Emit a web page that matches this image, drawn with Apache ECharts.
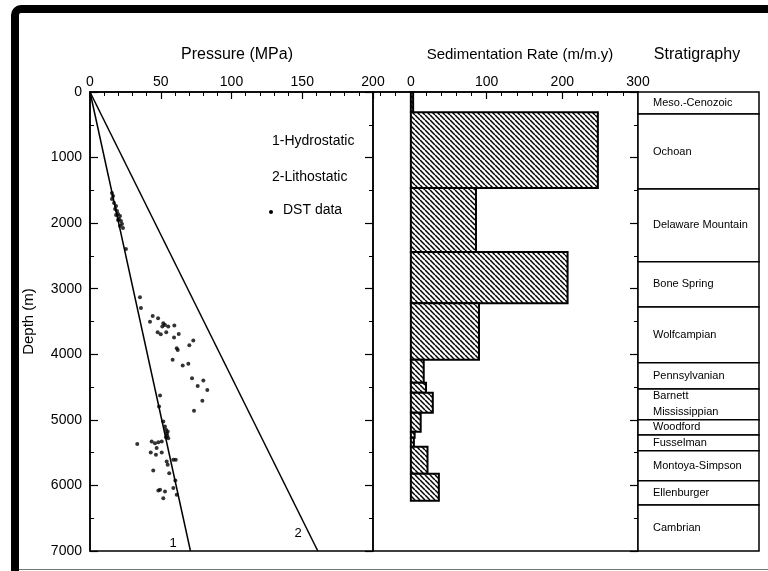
<!DOCTYPE html>
<html>
<head>
<meta charset="utf-8">
<script src="https://cdn.jsdelivr.net/npm/echarts@6/dist/echarts.min.js"></script>
<style>html,body{margin:0;padding:0;background:#fff}#c{width:768px;height:571px}</style>
</head>
<body>
<div id="c"></div>
<script>
// ---------- data ----------
const depthTicks = [0, 1000, 2000, 3000, 4000, 5000, 6000, 7000];
const pressureTicks = [0, 50, 100, 150, 200];
const sedTicks = [0, 100, 200, 300];
const sedMinorTicks = [-40, -20, 20, 40, 60, 80, 120, 140, 160, 180, 220, 240, 260, 280];

// pressure gradients: [pressure MPa, depth m]
const hydrostatic = [[0, 0], [71, 7000]];
const lithostatic = [[0, 0], [161, 7000]];

// DST data: [pressure MPa, depth m]
const dstData = [
  [15.5,1540],[16.3,1585],[15.5,1631],[17.0,1692],[18.4,1738],[17.7,1784],[19.1,1814],
  [19.8,1860],[21.2,1890],[20.5,1936],[21.9,1966],[22.6,2012],[21.2,2043],[23.3,2073],
  [19.8,1951],[18.4,1875],[25.4,2393],
  [35.3,3130],[36.0,3293],[44.3,3415],[42.4,3502],[48.1,3450],[51.8,3526],[53.0,3552],
  [55.3,3578],[51.1,3578],[59.6,3562],[47.8,3663],[50.0,3694],[53.9,3663],[62.7,3689],
  [59.4,3745],[73.0,3791],[70.2,3861],[61.3,3907],[62.0,3933],[58.4,4085],[65.5,4172],
  [69.5,4146],[72.1,4364],[80.1,4401],[76.1,4482],[82.9,4543],[79.4,4710],[49.5,4630],
  [48.8,4797],[73.5,4863],
  [51.8,5026],[53.0,5102],[53.7,5152],[54.2,5203],[54.6,5244],[55.3,5279],[53.7,5264],
  [54.9,5178],[33.4,5370],[43.6,5331],[45.9,5355],[48.3,5340],[50.7,5331],[47.1,5431],
  [42.9,5498],[46.6,5534],[50.7,5498],[54.2,5636],[54.9,5686],[58.9,5610],[60.6,5610],
  [56.0,5813],[44.7,5773],[60.3,5925],[49.5,6067],[53.0,6093],[58.9,6041],[61.3,6143],
  [51.8,6194],[48.3,6078]
];

// sedimentation rate step profile
const sedTop    = [0,   310, 1465, 2440, 3220, 4085, 4436, 4588, 4893, 5183, 5274, 5412, 5823];
const sedBottom = [310, 1465, 2440, 3220, 4085, 4436, 4588, 4893, 5183, 5274, 5412, 5823, 6235];
const sedRate   = [3,   247,  86,   207,  90,   17,   20,   29,   13,   5,    4,    22,   37];

// stratigraphy
const stratNames = ['Meso.-Cenozoic','Ochoan','Delaware Mountain','Bone Spring','Wolfcampian',
  'Pennsylvanian','Barnett\nMississippian','Woodford','Fusselman','Montoya-Simpson','Ellenburger','Cambrian'];
const stratTop    = [0, 335, 1480, 2590, 3280, 4130, 4530, 5000, 5230, 5470, 5930, 6300];
const stratBottom = [335, 1480, 2590, 3280, 4130, 4530, 5000, 5230, 5470, 5930, 6300, 7000];

// ---------- chart ----------
const FONT = 'Liberation Sans, Arial, Helvetica, sans-serif';

// hatch pattern
const pc = document.createElement('canvas');
const S = 5;
pc.width = S; pc.height = S;
const ctx = pc.getContext('2d');
ctx.fillStyle = '#fff'; ctx.fillRect(0, 0, S, S);
ctx.strokeStyle = '#000'; ctx.lineWidth = 1.5;
for (let k = -1; k <= 1; k++) {
  ctx.beginPath(); ctx.moveTo(k * S, 0); ctx.lineTo(k * S + S, S); ctx.stroke();
}
const hatch = { image: pc, repeat: 'repeat' };

const chart = echarts.init(document.getElementById('c'), null, { renderer: 'canvas' });

const G = { top: 92, height: 459 };
const gridBorder = { show: true, borderColor: '#000', borderWidth: 1.5, backgroundColor: 'transparent' };

const sideAxis = (grid, pos) => ({
  gridIndex: grid, type: 'value', inverse: true, min: 0, max: 7000, interval: 1000, position: pos,
  axisLine: { show: false, onZero: false },
  axisTick: { show: true, inside: true, length: 8, lineStyle: { color: '#000', width: 1.2 } },
  minorTick: { show: true, splitNumber: 2, length: 4, lineStyle: { color: '#000', width: 1 } },
  axisLabel: { show: false }, splitLine: { show: false }
});

const option = {
  animation: false,
  backgroundColor: '#fff',
  grid: [
    Object.assign({ left: 90, width: 283 }, G, gridBorder),
    Object.assign({ left: 373, width: 265 }, G, gridBorder),
    Object.assign({ left: 638, width: 121 }, G, { show: false }),
    Object.assign({ left: 373, width: 265 }, G, { show: false })
  ],
  xAxis: [
    { gridIndex: 0, type: 'value', position: 'top', min: 0, max: 200, interval: 50,
      axisLine: { show: true, onZero: false, lineStyle: { color: '#000', width: 1.5 } },
      axisTick: { show: true, inside: true, length: 7, lineStyle: { color: '#000', width: 1.2 } },
      minorTick: { show: true, splitNumber: 5, length: 4, lineStyle: { color: '#000', width: 1 } },
      axisLabel: { color: '#000', fontSize: 14, fontFamily: FONT, margin: 3 },
      splitLine: { show: false } },
    { gridIndex: 1, type: 'value', position: 'top', min: -50, max: 300,
      axisLine: { show: true, onZero: false, lineStyle: { color: '#000', width: 1.5 } },
      axisTick: { show: true, inside: true, length: 7, customValues: sedTicks, lineStyle: { color: '#000', width: 1.2 } },
      axisLabel: { color: '#000', fontSize: 14, fontFamily: FONT, margin: 3, customValues: sedTicks },
      splitLine: { show: false } },
    { gridIndex: 2, type: 'value', min: 0, max: 1, show: false },
    { gridIndex: 3, type: 'value', position: 'top', min: -50, max: 300,
      axisLine: { show: false, onZero: false },
      axisTick: { show: true, inside: true, length: 4, customValues: sedMinorTicks, lineStyle: { color: '#000', width: 1 } },
      axisLabel: { show: false },
      splitLine: { show: false } }
  ],
  yAxis: [
    { gridIndex: 0, type: 'value', inverse: true, min: 0, max: 7000, interval: 1000, position: 'left',
      name: 'Depth (m)', nameLocation: 'middle', nameGap: 54, nameRotate: 90,
      nameTextStyle: { color: '#000', fontSize: 15, fontFamily: FONT },
      axisLine: { show: true, onZero: false, lineStyle: { color: '#000', width: 1.5 } },
      axisTick: { show: true, inside: true, length: 8, lineStyle: { color: '#000', width: 1.2 } },
      minorTick: { show: true, splitNumber: 2, length: 4, lineStyle: { color: '#000', width: 1 } },
      axisLabel: { color: '#000', fontSize: 14, fontFamily: FONT, margin: 8, formatter: v => String(v) },
      splitLine: { show: false } },
    sideAxis(0, 'right'),
    sideAxis(1, 'right'),
    { gridIndex: 2, type: 'value', inverse: true, min: 0, max: 7000, show: false },
    { gridIndex: 3, type: 'value', inverse: true, min: 0, max: 7000, show: false }
  ],
  series: [
    { type: 'line', xAxisIndex: 0, yAxisIndex: 0, data: hydrostatic, symbol: 'none',
      lineStyle: { color: '#000', width: 1.5 }, silent: true },
    { type: 'line', xAxisIndex: 0, yAxisIndex: 0, data: lithostatic, symbol: 'none',
      lineStyle: { color: '#000', width: 1.5 }, silent: true },
    { type: 'scatter', xAxisIndex: 0, yAxisIndex: 0, data: dstData, symbol: 'circle', symbolSize: 4,
      itemStyle: { color: '#000' }, silent: true },
    { type: 'custom', xAxisIndex: 1, yAxisIndex: 2,
      data: sedRate.map((v, i) => [sedTop[i], sedBottom[i], v]),
      encode: { x: 2, y: [0, 1] },
      renderItem: function (params, api) {
        const p0 = api.coord([0, api.value(0)]);
        const p1 = api.coord([api.value(2), api.value(1)]);
        return { type: 'rect',
          shape: { x: p0[0], y: p0[1], width: p1[0] - p0[0], height: p1[1] - p0[1] },
          style: { fill: hatch, stroke: '#000', lineWidth: 2 } };
      }, silent: true },
    { type: 'custom', xAxisIndex: 2, yAxisIndex: 3,
      data: stratNames.map((n, i) => [stratTop[i], stratBottom[i], n]),
      encode: { y: [0, 1] },
      renderItem: function (params, api) {
        const i = params.dataIndex;
        const p0 = api.coord([0, stratTop[i]]);
        const p1 = api.coord([1, stratBottom[i]]);
        return { type: 'group', children: [
          { type: 'rect', shape: { x: p0[0], y: p0[1], width: p1[0] - p0[0], height: p1[1] - p0[1] },
            style: { fill: '#fff', stroke: '#000', lineWidth: 1.5 } },
          { type: 'text', style: { text: stratNames[i], x: p0[0] + 15, y: (p0[1] + p1[1]) / 2,
            verticalAlign: 'middle', align: 'left', fontSize: 11, fontFamily: FONT, fill: '#000', lineHeight: 16 } }
        ] };
      }, silent: true }
  ],
  graphic: [
    { type: 'rect', shape: { x: 15, y: 9, width: 900, height: 700, r: 6 },
      style: { fill: 'none', stroke: '#000', lineWidth: 8 }, silent: true },
    { type: 'line', shape: { x1: 19, y1: 569.5, x2: 768, y2: 569.5 },
      style: { stroke: '#777', lineWidth: 1.2 }, silent: true },
    { type: 'text', x: 237, y: 55, style: { text: 'Pressure (MPa)', fontSize: 16, fontFamily: FONT, fill: '#000', align: 'center', verticalAlign: 'middle' } },
    { type: 'text', x: 520, y: 55, style: { text: 'Sedimentation Rate (m/m.y)', fontSize: 15, fontFamily: FONT, fill: '#000', align: 'center', verticalAlign: 'middle' } },
    { type: 'text', x: 697, y: 55, style: { text: 'Stratigraphy', fontSize: 16, fontFamily: FONT, fill: '#000', align: 'center', verticalAlign: 'middle' } },
    { type: 'text', x: 272, y: 141, style: { text: '1-Hydrostatic', fontSize: 14, fontFamily: FONT, fill: '#000', verticalAlign: 'middle' } },
    { type: 'text', x: 272, y: 177, style: { text: '2-Lithostatic', fontSize: 14, fontFamily: FONT, fill: '#000', verticalAlign: 'middle' } },
    { type: 'circle', shape: { cx: 271, cy: 212, r: 2 }, style: { fill: '#000' } },
    { type: 'text', x: 283, y: 210, style: { text: 'DST data', fontSize: 14, fontFamily: FONT, fill: '#000', verticalAlign: 'middle' } },
    { type: 'text', x: 173, y: 543, style: { text: '1', fontSize: 13, fontFamily: FONT, fill: '#000', align: 'center', verticalAlign: 'middle' } },
    { type: 'text', x: 298, y: 533, style: { text: '2', fontSize: 13, fontFamily: FONT, fill: '#000', align: 'center', verticalAlign: 'middle' } }
  ]
};
chart.setOption(option);
</script>
</body>
</html>
